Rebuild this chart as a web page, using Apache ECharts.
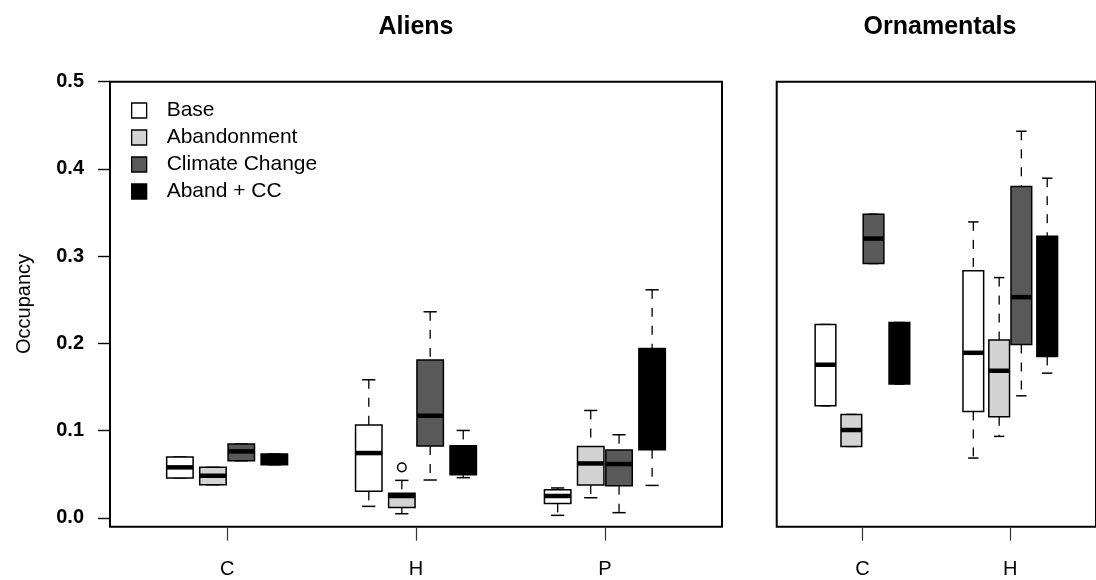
<!DOCTYPE html>
<html>
<head>
<meta charset="utf-8">
<script src="https://cdn.jsdelivr.net/npm/echarts@6/dist/echarts.min.js"></script>
<style>
html,body{margin:0;padding:0;background:#fff;}
#chart{width:1096px;height:580px;}
</style>
</head>
<body>
<div id="chart"></div>
<script>
// ---------------- data ----------------
const categoriesAliens = ['C', 'H', 'P'];
const categoriesOrnamentals = ['C', 'H'];
const scenarios = ['Base', 'Abandonment', 'Climate Change', 'Aband + CC'];
const yTicks = [0, 0.1, 0.2, 0.3, 0.4, 0.5];

// each row: [min, Q1, median, Q3, max] for one category
const aliensBase        = [[0.0458, 0.0458, 0.0580, 0.0699, 0.0699], [0.0133, 0.0305, 0.0744, 0.1065, 0.1584], [0.0030, 0.0167, 0.0252, 0.0324, 0.0344]];
const aliensAbandonment = [[0.0381, 0.0381, 0.0484, 0.0580, 0.0580], [0.0049, 0.0121, 0.0252, 0.0282, 0.0431], [0.0232, 0.0378, 0.0625, 0.0820, 0.1232]];
const aliensClimate     = [[0.0656, 0.0656, 0.0763, 0.0847, 0.0847], [0.0435, 0.0825, 0.1172, 0.1810, 0.2363], [0.0061, 0.0370, 0.0618, 0.0779, 0.0954]];
const aliensAbandCC     = [[0.0610, 0.0610, 0.0670, 0.0733, 0.0733], [0.0462, 0.0496, 0.0600, 0.0828, 0.1003], [0.0373, 0.0782, 0.1300, 0.1942, 0.2615]];
const aliensAbandonmentOutliers = [['H', 0.058]];

const ornBase        = [[0.1286, 0.1286, 0.1756, 0.2217, 0.2217], [0.0687, 0.1221, 0.1893, 0.2832, 0.3393]];
const ornAbandonment = [[0.0820, 0.0820, 0.1008, 0.1186, 0.1186], [0.0935, 0.1160, 0.1687, 0.2039, 0.2755]];
const ornClimate     = [[0.2916, 0.2916, 0.3202, 0.3481, 0.3481], [0.1400, 0.1988, 0.2531, 0.3798, 0.4432]];
const ornAbandCC     = [[0.1535, 0.1535, 0.1900, 0.2240, 0.2240], [0.1660, 0.1851, 0.2500, 0.3230, 0.3894]];

// ---------------- style ----------------
const FONT = '"Liberation Sans", Arial, Helvetica, sans-serif';
const fills = ['#ffffff', '#d3d3d3', '#595959', '#000000'];
const OFFSETS = [-0.25, -0.075, 0.075, 0.25];
const BOX_W = 0.14;

function boxRender(k) {
  return function (params, api) {
    const x = api.value(0) + OFFSETS[k];
    const mn = api.value(1), q1 = api.value(2), md = api.value(3), q3 = api.value(4), mx = api.value(5);
    const pMin = api.coord([x, mn]), pQ1 = api.coord([x, q1]), pMd = api.coord([x, md]),
          pQ3 = api.coord([x, q3]), pMax = api.coord([x, mx]);
    const w = api.size([BOX_W, 0])[0];
    const cx = pMd[0];
    const children = [];
    const dashStyle = { stroke: '#000', lineWidth: 1.3, lineDash: [9, 9] };
    const capStyle = { stroke: '#000', lineWidth: 1.5 };
    if (mx > q3) {
      children.push({ type: 'line', shape: { x1: cx, y1: pMax[1], x2: cx, y2: pQ3[1] }, style: dashStyle });
    }
    children.push({ type: 'line', shape: { x1: cx - w / 4, y1: pMax[1], x2: cx + w / 4, y2: pMax[1] }, style: capStyle });
    if (mn < q1) {
      children.push({ type: 'line', shape: { x1: cx, y1: pQ1[1], x2: cx, y2: pMin[1] }, style: dashStyle });
    }
    children.push({ type: 'line', shape: { x1: cx - w / 4, y1: pMin[1], x2: cx + w / 4, y2: pMin[1] }, style: capStyle });
    children.push({ type: 'rect', shape: { x: cx - w / 2, y: pQ3[1], width: w, height: pQ1[1] - pQ3[1] },
      style: { fill: fills[k], stroke: '#000', lineWidth: 1.5 } });
    children.push({ type: 'line', shape: { x1: cx - w / 2, y1: pMd[1], x2: cx + w / 2, y2: pMd[1] },
      style: { stroke: '#000', lineWidth: 4.5 } });
    return { type: 'group', children: children };
  };
}

function outlierRender(k) {
  return function (params, api) {
    const p = api.coord([api.value(0) + OFFSETS[k], api.value(1)]);
    return { type: 'circle', shape: { cx: p[0], cy: p[1], r: 4.3 }, style: { fill: 'none', stroke: '#000', lineWidth: 1.5 } };
  };
}

function toData(stats) { return stats.map((s, i) => [i + 1].concat(s)); }

const aliensSets = [aliensBase, aliensAbandonment, aliensClimate, aliensAbandCC];
const ornSets = [ornBase, ornAbandonment, ornClimate, ornAbandCC];

const series = [];
aliensSets.forEach((set, k) => {
  series.push({
    type: 'custom', name: scenarios[k], xAxisIndex: 0, yAxisIndex: 0,
    itemStyle: { color: fills[k], borderColor: '#000' },
    encode: { x: 0, y: [1, 2, 3, 4, 5] },
    data: toData(set), renderItem: boxRender(k), silent: true
  });
});
ornSets.forEach((set, k) => {
  series.push({
    type: 'custom', name: scenarios[k], xAxisIndex: 1, yAxisIndex: 1,
    itemStyle: { color: fills[k], borderColor: '#000' },
    encode: { x: 0, y: [1, 2, 3, 4, 5] },
    data: toData(set), renderItem: boxRender(k), silent: true
  });
});
series.push({
  type: 'custom', name: scenarios[1], xAxisIndex: 0, yAxisIndex: 0,
  itemStyle: { color: fills[1], borderColor: '#000' },
  encode: { x: 0, y: 1 },
  data: aliensAbandonmentOutliers.map(o => [categoriesAliens.indexOf(o[0]) + 1, o[1]]),
  renderItem: outlierRender(1), silent: true
});

const labelStyle = { fontSize: 20, color: '#000', fontFamily: FONT };
const xCustomA = categoriesAliens.map((c, i) => i + 1);
const xCustomO = categoriesOrnamentals.map((c, i) => i + 1);

const option = {
  animation: false,
  backgroundColor: '#fff',
  grid: [
    { left: 110, top: 81.7, width: 612, height: 445, show: true, borderColor: '#000', borderWidth: 2, backgroundColor: 'transparent' },
    { left: 776.7, top: 81.7, width: 326.8, height: 445, show: true, borderColor: '#000', borderWidth: 2, backgroundColor: 'transparent' }
  ],
  xAxis: [
    { type: 'value', gridIndex: 0, min: 0.38, max: 3.62, position: 'bottom',
      axisLine: { show: false, onZero: false }, splitLine: { show: false },
      axisTick: { show: true, inside: false, customValues: xCustomA, length: 14, lineStyle: { color: '#333', width: 1.2 } },
      axisLabel: Object.assign({ customValues: xCustomA, margin: 33, formatter: v => categoriesAliens[Math.round(v) - 1] || '' }, labelStyle) },
    { type: 'value', gridIndex: 1, min: 0.42, max: 2.58, position: 'bottom',
      axisLine: { show: false, onZero: false }, splitLine: { show: false },
      axisTick: { show: true, inside: false, customValues: xCustomO, length: 14, lineStyle: { color: '#333', width: 1.2 } },
      axisLabel: Object.assign({ customValues: xCustomO, margin: 33, formatter: v => categoriesOrnamentals[Math.round(v) - 1] || '' }, labelStyle) }
  ],
  yAxis: [
    { type: 'value', gridIndex: 0, min: -0.01, max: 0.5, position: 'left',
      axisLine: { show: false, onZero: false }, splitLine: { show: false },
      axisTick: { show: true, inside: false, customValues: yTicks, length: 12, lineStyle: { color: '#000', width: 1.4 } },
      axisLabel: Object.assign({ customValues: yTicks, margin: 26, fontWeight: 'bold', formatter: v => v.toFixed(1) }, labelStyle) },
    { type: 'value', gridIndex: 1, min: -0.01, max: 0.5, position: 'left',
      axisLine: { show: false, onZero: false }, splitLine: { show: false },
      axisTick: { show: false }, axisLabel: { show: false } }
  ],
  legend: {
    orient: 'vertical', left: 131, top: 100, padding: 0,
    itemWidth: 15, itemHeight: 15, itemGap: 6, selectedMode: false, icon: 'rect',
    textStyle: { fontSize: 21, color: '#000', fontFamily: FONT, lineHeight: 20, padding: [0, 0, 0, 15] },
    data: scenarios.map((s, k) => ({ name: s, itemStyle: { color: fills[k], borderColor: '#000', borderWidth: 1.3 } }))
  },
  graphic: [
    { type: 'text', x: 416, y: 27, style: { text: 'Aliens', font: 'bold 25px ' + FONT, fill: '#000', align: 'center', verticalAlign: 'middle' } },
    { type: 'text', x: 940, y: 27, style: { text: 'Ornamentals', font: 'bold 25px ' + FONT, fill: '#000', align: 'center', verticalAlign: 'middle' } },
    { type: 'text', x: 24, y: 304, rotation: Math.PI / 2, style: { text: 'Occupancy', font: '20px ' + FONT, fill: '#000', align: 'center', verticalAlign: 'middle' } }
  ],
  series: series
};

const chart = echarts.init(document.getElementById('chart'), null, { renderer: 'canvas' });
chart.setOption(option);
</script>
</body>
</html>
